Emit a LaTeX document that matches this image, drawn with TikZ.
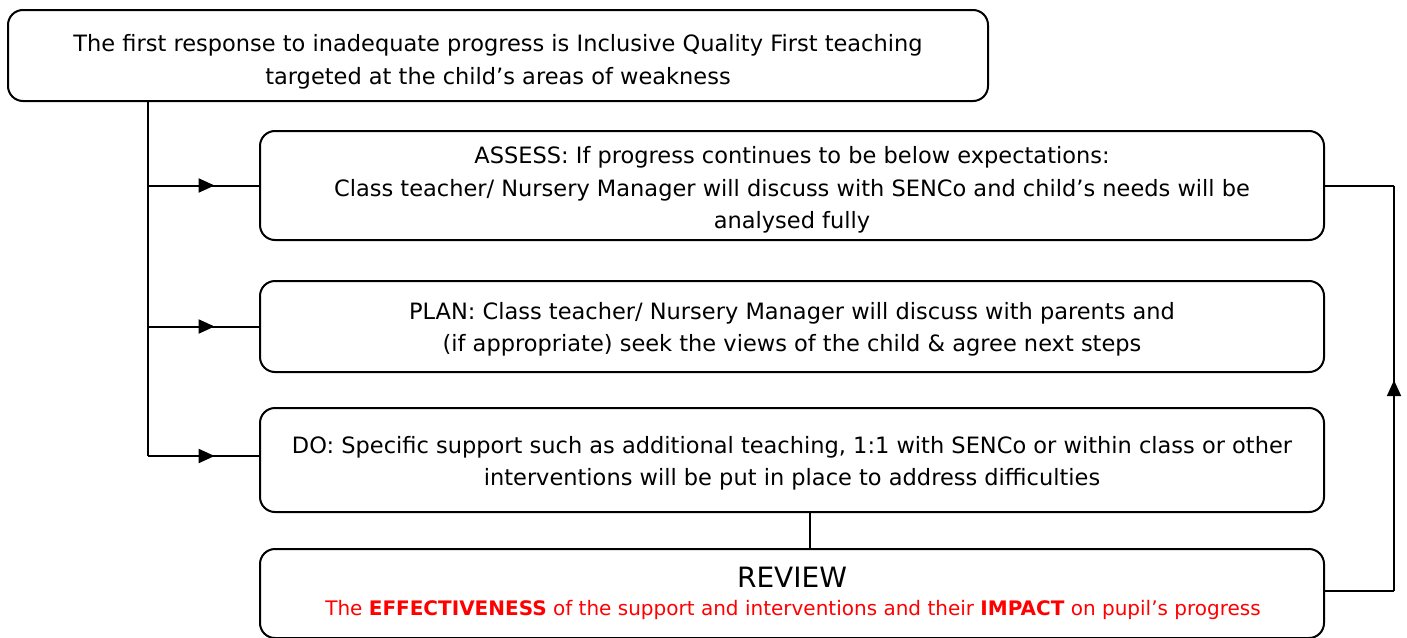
\documentclass[tikz,border=0pt]{standalone}
\usepackage{fontspec}
\setmainfont{DejaVu Sans}
\usetikzlibrary{arrows.meta,decorations.markings}
\definecolor{revred}{RGB}{255,0,0}
\tikzset{
  box/.style={draw=black, line width=2pt, rounded corners=15pt, fill=white, inner sep=0pt},
  txt/.style={align=center, inner sep=0pt, font=\fontsize{22.5}{32.5}\selectfont},
  conn/.style={draw=black, line width=2pt},
  midarrow/.style={conn, postaction={decorate}, decoration={markings,
    mark=at position #1 with {\arrow{Triangle[length=16pt,width=14pt]}}}},
}
\begin{document}
\begin{tikzpicture}[x=1pt,y=-1pt]
\clip (0,0) rectangle (1407,637);
\fill[white] (0,0) rectangle (1407,637);
\node[box, minimum width=980pt, minimum height=91pt] (top) at (498,55.5) {};
\node[txt] (toptxt) at (498,62)
  {The first response to inadequate progress is Inclusive Quality First teaching\\targeted at the child’s areas of weakness};
\node[box, minimum width=1064pt, minimum height=109pt] (assess) at (792,185.5) {};
\node[txt] (assesstxt) at (792,190)
  {ASSESS: If progress continues to be below expectations:\\Class teacher/ Nursery Manager will discuss with SENCo and child’s needs will be\\analysed fully};
\node[box, minimum width=1064pt, minimum height=91pt] (plan) at (792,326.5) {};
\node[txt] (plantxt) at (792,329.5)
  {PLAN: Class teacher/ Nursery Manager will discuss with parents and\\(if appropriate) seek the views of the child \& agree next steps};
\node[box, minimum width=1064pt, minimum height=104pt] (do) at (792,460) {};
\node[txt] (dotxt) at (792,463.5)
  {DO: Specific support such as additional teaching, 1:1 with SENCo or within class or other\\interventions will be put in place to address difficulties};
\node[box, minimum width=1064pt, minimum height=89pt] (review) at (792,593.5) {};
\node[font=\fontsize{28}{32}\selectfont] (revtitle) at (792,577) {REVIEW};
\node[font=\fontsize{20}{24}\selectfont, text=revred] (revtext) at (793,610)
  {The \textbf{EFFECTIVENESS} of the support and interventions and their \textbf{IMPACT} on pupil’s progress};
% left trunk
\coordinate (j1) at (148,185.5);
\coordinate (j2) at (148,326.5);
\coordinate (j3) at (148,456);
\draw[conn] (top.south -| j3) -- (j3);
\draw[midarrow=0.6] (j1) -- (assess.west);
\draw[midarrow=0.6] (j2) -- (plan.west);
\draw[midarrow=0.6] (j3) -- (j3 -| do.west);
% do to review
\draw[conn] ([xshift=18pt]do.south) -- ([xshift=18pt]review.north);
% right feedback
\coordinate (r1) at (1394,185.5);
\coordinate (r2) at (1394,591);
\draw[conn] (r2 -| review.east) -- (r2);
\draw[midarrow=0.52] (r2) -- (r1);
\draw[conn] (r1) -- (assess.east);
\end{tikzpicture}
\end{document}
